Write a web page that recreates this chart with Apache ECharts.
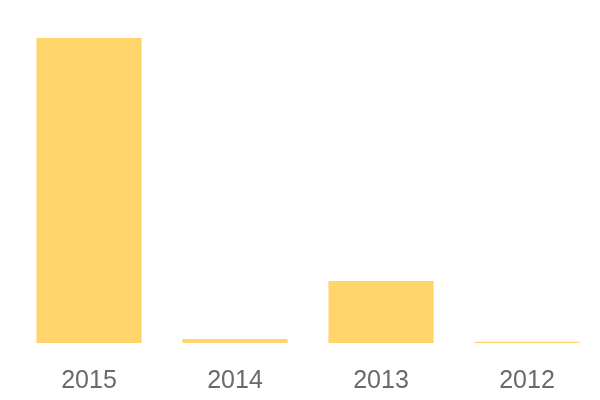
<!DOCTYPE html>
<html>
<head>
<meta charset="utf-8">
<script src="https://cdn.jsdelivr.net/npm/echarts@6/dist/echarts.min.js"></script>
<style>html,body{margin:0;padding:0;background:#fff}#c{width:600px;height:400px}</style>
</head>
<body>
<div id="c"></div>
<script>
const categories = ['2015', '2014', '2013', '2012'];
const values = [305, 4, 62, 1.3];
const chart = echarts.init(document.getElementById('c'));
chart.setOption({
  animation: false,
  grid: { left: 16, right: 0, top: 38, bottom: 57, containLabel: false },
  xAxis: {
    type: 'category',
    data: categories,
    axisLine: { show: false },
    axisTick: { show: false },
    axisLabel: { color: '#6a6a6a', fontSize: 25, margin: 26, fontFamily: 'Liberation Sans' }
  },
  yAxis: { type: 'value', min: 0, max: 305, show: false, splitLine: { show: false } },
  series: [{
    type: 'bar',
    data: values,
    barCategoryGap: '28%',
    itemStyle: { color: '#FFD56B' }
  }]
});
</script>
</body>
</html>
